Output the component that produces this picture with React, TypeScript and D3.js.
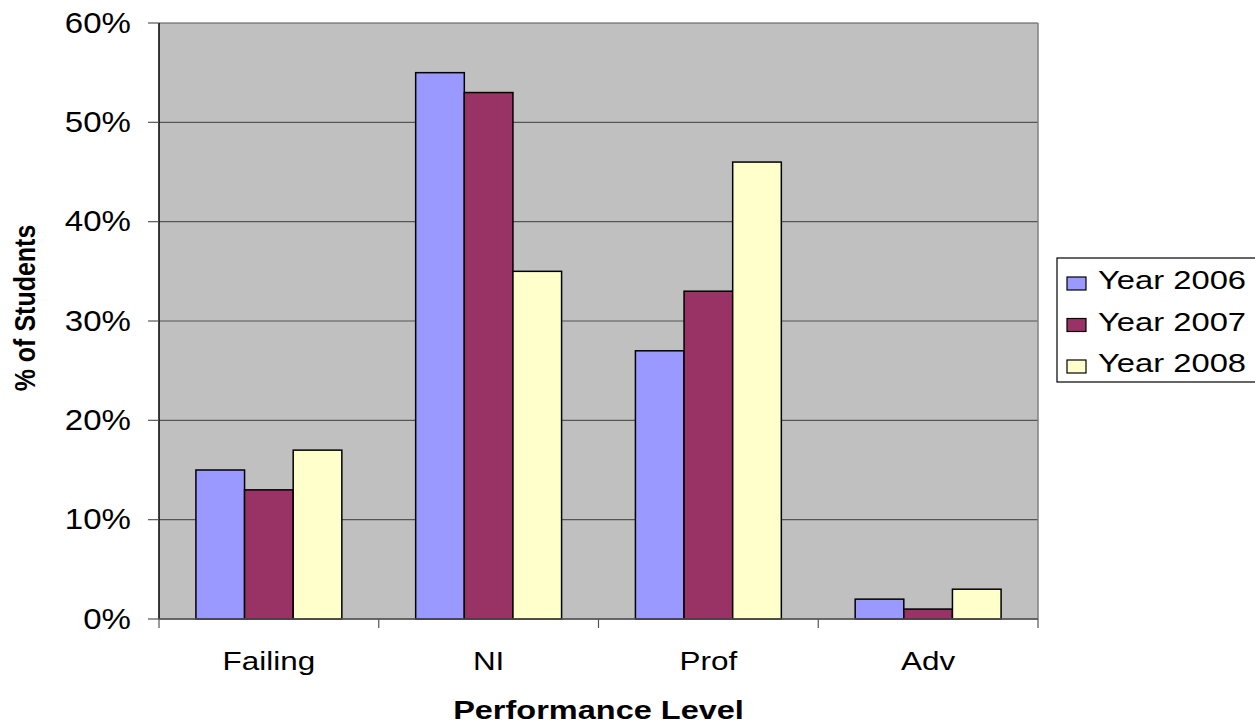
import React from 'react';
import * as d3 from 'd3';

// chart data
const levels = ['Failing', 'NI', 'Prof', 'Adv'];
const years = ['Year 2006', 'Year 2007', 'Year 2008'];
const year2006 = [15, 55, 27, 2];
const year2007 = [13, 53, 33, 1];
const year2008 = [17, 35, 46, 3];
const yTicks = [0, 10, 20, 30, 40, 50, 60];

const seriesValues = [year2006, year2007, year2008];
const colors = ['#9999FF', '#993366', '#FFFFCC'];

const W = 1255;
const H = 725;
const plot = { left: 159, right: 1038, top: 23, bottom: 619 };
const FONT = 'Arial, "Liberation Sans", Helvetica, sans-serif';

export default function App() {
  const x0 = d3
    .scaleBand<string>()
    .domain(levels)
    .range([plot.left, plot.right])
    .paddingInner(0.336)
    .paddingOuter(0.168);

  const x1 = d3.scaleBand<string>().domain(years).range([0, x0.bandwidth()]);

  const y = d3.scaleLinear().domain([0, 60]).range([plot.bottom, plot.top]);

  const step = (plot.right - plot.left) / levels.length;
  const boundaries = d3.range(levels.length + 1).map((i) => plot.left + i * step);

  return (
    <svg
      width={W}
      height={H}
      viewBox={`0 0 ${W} ${H}`}
      style={{ position: 'absolute', left: 0, top: 0, display: 'block', background: '#fff' }}
      fontFamily={FONT}
    >
      {/* plot area */}
      <rect x={plot.left} y={plot.top} width={plot.right - plot.left} height={plot.bottom - plot.top} fill="#C0C0C0" />

      {/* gridlines */}
      {yTicks.map((t) => (
        <line key={'g' + t} x1={plot.left} x2={plot.right} y1={y(t)} y2={y(t)} stroke="#555" strokeWidth={1.2} />
      ))}
      <line x1={plot.right} x2={plot.right} y1={plot.top} y2={plot.bottom} stroke="#808080" strokeWidth={1.5} />

      {/* bars */}
      {levels.map((lvl, i) => (
        <g key={lvl} transform={`translate(${x0(lvl)},0)`}>
          {years.map((yr, j) => (
            <rect
              key={yr}
              x={x1(yr)}
              y={y(seriesValues[j][i])}
              width={x1.bandwidth()}
              height={y(0) - y(seriesValues[j][i])}
              fill={colors[j]}
              stroke="#000"
              strokeWidth={1.5}
            />
          ))}
        </g>
      ))}

      {/* y axis */}
      <line x1={plot.left} x2={plot.left} y1={plot.top} y2={plot.bottom} stroke="#000" strokeWidth={1.5} />
      {yTicks.map((t) => (
        <g key={'t' + t}>
          <line x1={plot.left - 11} x2={plot.left} y1={y(t)} y2={y(t)} stroke="#555" strokeWidth={1.2} />
          <text
            transform={`translate(131,${y(t)}) scale(1.14,1)`}
            textAnchor="end"
            dominantBaseline="central"
            fontSize={29}
            fill="#000"
          >
            {t}%
          </text>
        </g>
      ))}

      {/* x axis */}
      <line x1={plot.left} x2={plot.right} y1={plot.bottom} y2={plot.bottom} stroke="#555" strokeWidth={1.5} />
      {boundaries.map((bx, i) => (
        <line key={'b' + i} x1={bx} x2={bx} y1={plot.bottom} y2={plot.bottom + 9} stroke="#555" strokeWidth={1.2} />
      ))}
      {levels.map((lvl) => (
        <text
          key={'l' + lvl}
          transform={`translate(${(x0(lvl) as number) + x0.bandwidth() / 2},670) scale(1.21,1)`}
          textAnchor="middle"
          fontSize={26}
          fill="#000"
        >
          {lvl}
        </text>
      ))}

      {/* axis titles */}
      <text
        transform={`translate(${(plot.left + plot.right) / 2},719) scale(1.25,1)`}
        textAnchor="middle"
        fontSize={26}
        fontWeight="bold"
        fill="#000"
      >
        Performance Level
      </text>
      <text
        transform={`translate(25,308) rotate(-90) scale(1,1.2)`}
        textAnchor="middle"
        dominantBaseline="central"
        fontSize={25}
        fontWeight="bold"
        fill="#000"
      >
        % of Students
      </text>

      {/* legend */}
      <rect x={1057} y={258} width={205} height={124} fill="#fff" stroke="#000" strokeWidth={1.2} />
      {years.map((yr, j) => (
        <g key={'lg' + yr} transform={`translate(1067,${289 + j * 41.5})`}>
          <rect x={0} y={-12} width={19} height={13} fill={colors[j]} stroke="#000" strokeWidth={1.2} />
          <text transform="translate(31,0) scale(1.31,1)" fontSize={25} fill="#000">
            {yr}
          </text>
        </g>
      ))}
    </svg>
  );
}
